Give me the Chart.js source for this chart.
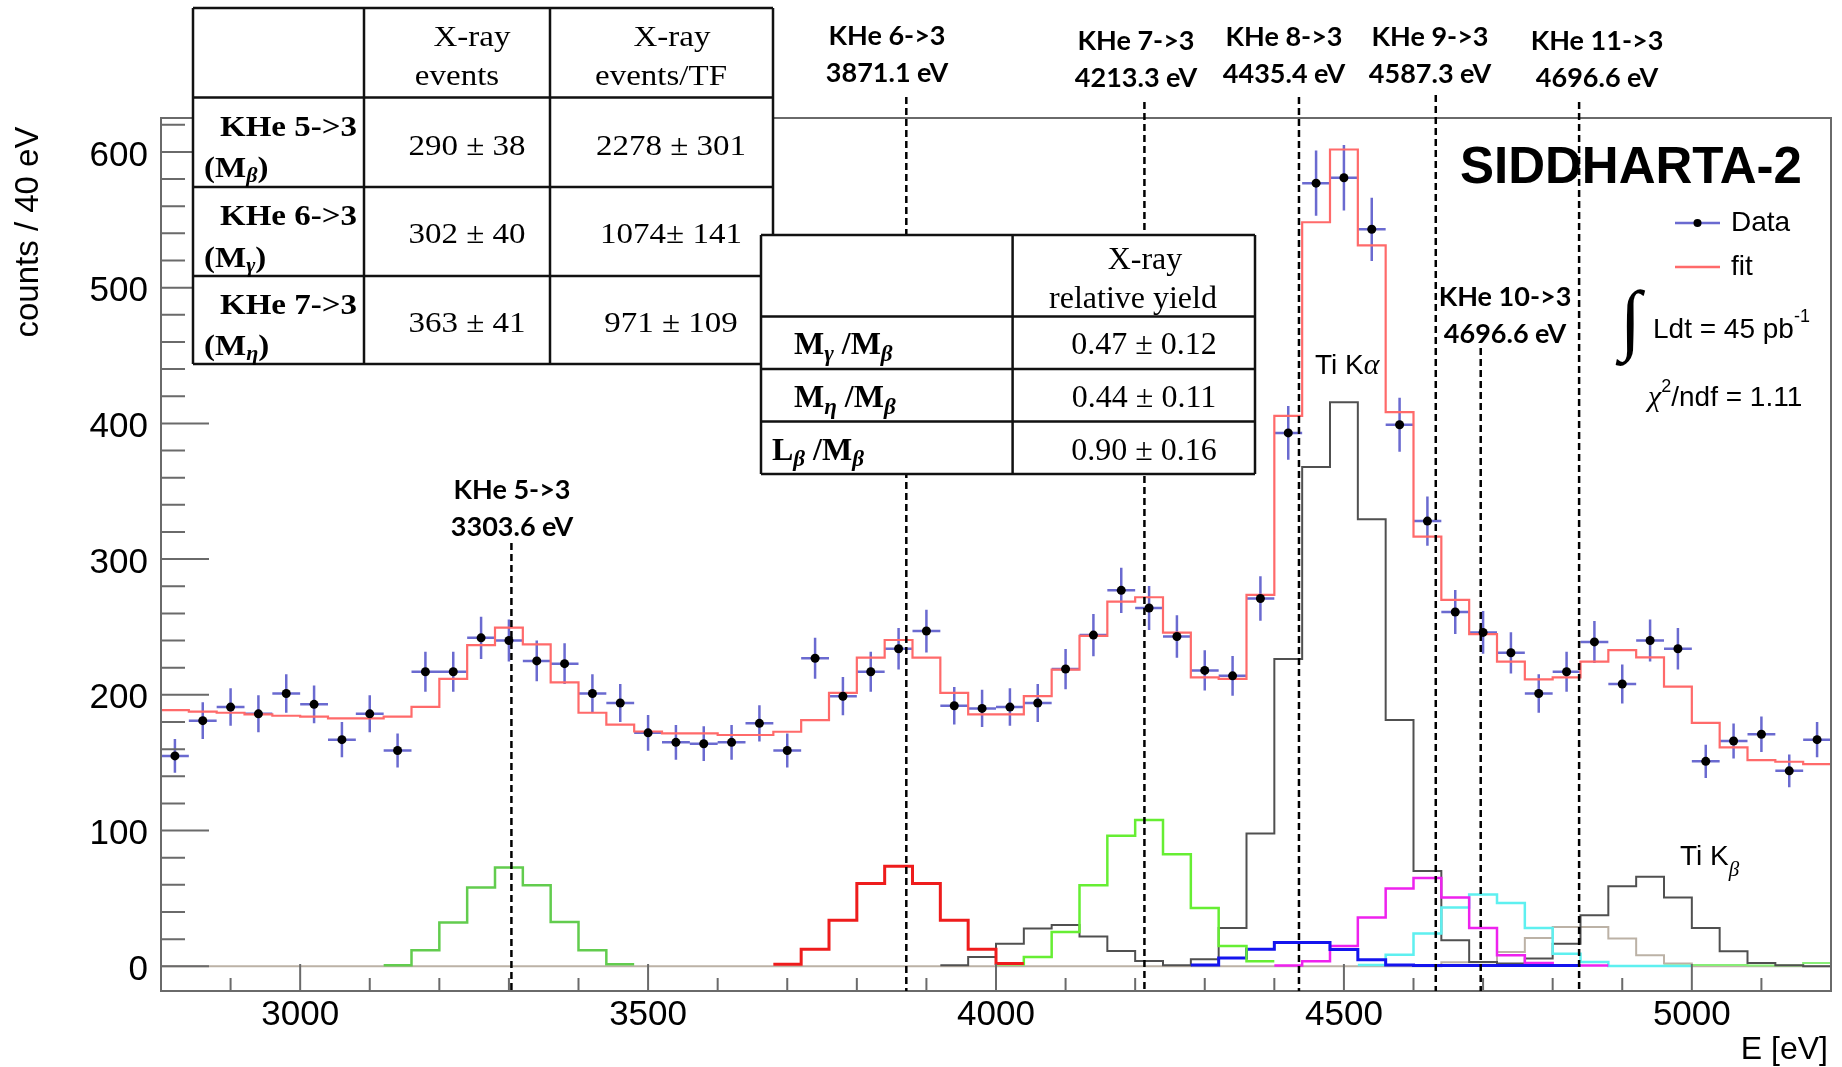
<!DOCTYPE html>
<html>
<head>
<meta charset="utf-8">
<title>SIDDHARTA-2 kaonic helium spectrum</title>
<script src="https://cdn.jsdelivr.net/npm/chart.js@4.4.1/dist/chart.umd.min.js"></script>
<style>
    html, body { margin: 0; padding: 0; background: #ffffff; }
    #box { width: 1842px; height: 1067px; }
</style>
</head>
<body>
<div id="box"><canvas id="char_spectrum" width="1842" height="1067"></canvas></div>
<script>
// energy binning (eV)
var binStart = 2800;
var binWidth = 40;

var xTicks = [3000, 3500, 4000, 4500, 5000];
var yTicks = [0, 100, 200, 300, 400, 500, 600];

// counts / 40 eV, bin centres 2820 ... 5180 eV
var dataCounts = [
    155, 181, 191, 186, 201, 193, 167, 186, 159, 217,
    217, 242, 240, 225, 223, 201, 194, 172, 165, 164,
    165, 179, 159, 227, 199, 217, 234, 247, 192, 190,
    191, 194, 219, 244, 277, 264, 243, 218, 214, 271,
    393, 577, 581, 543, 399, 328, 261, 246, 231, 201,
    217, 239, 208, 240, 234, 151, 166, 171, 144, 167
];

// total fit, one value per bin starting at 2800 eV
var fitCounts = [
    188.8, 187.6, 186.8, 185.6, 184.6, 183.9, 182.6, 182.6, 183.9, 191.2,
    211.7, 236.7, 249.5, 237.2, 209.2, 186.8, 178.0, 173.0, 171.6, 171.6,
    170.4, 170.4, 172.8, 181.4, 201.5, 227.4, 240.4, 227.4, 201.5, 185.6,
    185.6, 199.1, 218.6, 243.4, 268.7, 271.9, 245.8, 212.9, 211.7, 273.6,
    405.6, 548.2, 601.8, 531.2, 408.3, 316.6, 270.0, 244.8, 224.4, 211.4,
    212.9, 224.4, 233.0, 227.6, 206.0, 179.4, 161.3, 151.9, 150.7, 149.0
];

// fit components: lower edge of first bin + bin contents
var kHe53Start = 3120;
var kHe53 = [0.7, 11.8, 32.2, 58, 72.8, 59.7, 32.7, 11.8, 1.5];

var kHe63Start = 3680;
var kHe63 = [1.5, 12.5, 33.9, 61, 73.7, 61, 33.9, 12.5, 2];

var kHe73Start = 4000;
var kHe73 = [1.5, 6.9, 25.3, 59.7, 96.1, 107.7, 82.6, 43, 15, 3.7];

var kHe83Start = 4280;
var kHe83 = [1, 6.1, 12.5, 17.5, 17.5, 12.3, 4.9, 1, 0.5, 0.5, 0.5, 0.5, 0.5, 0.5];

var kHe93Start = 4400;
var kHe93 = [0.5, 3.7, 15, 35.9, 57.3, 65.1, 50.7, 28.3, 8.1, 2.5, 0.5, 0.5];

var kHe103Start = 4520;
var kHe103 = [1, 8.6, 24.1, 43.3, 52.9, 46.7, 28.3, 9.3, 3.2, 0.3, 0.3, 0.3];

var kHe113Start = 2800;
var kHe113 = [
    0, 0, 0, 0, 0, 0, 0, 0, 0, 0,
    0, 0, 0, 0, 0, 0, 0, 0, 0, 0,
    0, 0, 0, 0, 0, 0, 0, 0, 0, 0,
    0, 0, 0, 0, 0, 0, 0, 0, 0, 0,
    0, 0, 0, 0, 0, 0, 3, 3, 10.6, 20.9,
    29, 29, 20.4, 8.1, 2, 0, 0, 0, 0, 0
];

var tiStart = 3920;
var tiLines = [
    0.7, 6.9, 16.7, 27.8, 30.5, 22, 11.3, 3.9, 0.7, 5.2,
    28.3, 97.9, 226.4, 367.8, 415.5, 329.4, 181.4, 70.3, 19.2, 3.2,
    2, 5.7, 16.7, 37.6, 59, 65.9, 50.7, 28.3, 11.1, 2.5,
    0.7, 0
];

var tailStart = 4960;
var tailLine = [0.5, 1, 1, 0.5, 0.5, 2.5];

// transition markers
var markerNames = ["KHe 5->3", "KHe 6->3", "KHe 7->3", "KHe 8->3", "KHe 9->3", "KHe 10->3", "KHe 11->3"];
var markerCaptions = ["3303.6 eV", "3871.1 eV", "4213.3 eV", "4435.4 eV", "4587.3 eV", "4696.6 eV", "4696.6 eV"];
var markerEnergies = [3303.6, 3871.1, 4213.3, 4435.4, 4632, 4696.6, 4838];

// yield tables
var tableRowNames = ["KHe 5->3", "KHe 6->3", "KHe 7->3"];
var tableRowSymbols = ["β", "γ", "η"];
var xrayEvents = ["290 ± 38", "302 ± 40", "363 ± 41"];
var xrayEventsTF = ["2278 ± 301", "1074± 141", "971 ± 109"];
var ratioNames = [["M", "γ"], ["M", "η"], ["L", "β"]];
var ratioValues = ["0.47 ± 0.12", "0.44 ± 0.11", "0.90 ± 0.16"];

var SANS = '"Liberation Sans", Arial, sans-serif';
var SERIF = '"Liberation Serif", "Times New Roman", serif';
var LABEL = 'Lato, "Open Sans", sans-serif';
var ERR_COLOR = "rgba(80, 80, 200, 0.85)";
var FIT_COLOR = "#ff6a6a";

// points on the bin edges; each value is held until the next edge
function histPoints(start, values) {
    var pts = [];
    for (var i = 0; i < values.length; i++) {
        pts.push({ x: start + i * binWidth, y: values[i] });
    }
    pts.push({ x: start + values.length * binWidth, y: values[values.length - 1] });
    return pts;
}

function histSet(label, start, values, color, width) {
    return {
        type: "line",
        label: label,
        data: histPoints(start, values),
        borderColor: color,
        borderWidth: width,
        stepped: "before",
        pointRadius: 0,
        fill: false,
        tension: 0
    };
}

var dataPoints = dataCounts.map(function (c, i) {
    return { x: binStart + (i + 0.5) * binWidth, y: c };
});

function richText(ctx, parts, x, y, align, sx) {
    sx = sx || 1;
    var total = 0;
    parts.forEach(function (p) {
        ctx.font = p[1];
        total += ctx.measureText(p[0]).width;
    });
    var cx = align === "center" ? -total / 2 : (align === "right" ? -total : 0);
    ctx.save();
    ctx.translate(x, y);
    ctx.scale(sx, 1);
    ctx.textAlign = "left";
    ctx.textBaseline = "middle";
    ctx.fillStyle = "#000";
    parts.forEach(function (p) {
        ctx.font = p[1];
        ctx.fillText(p[0], cx, p[2] || 0);
        cx += ctx.measureText(p[0]).width;
    });
    ctx.restore();
}

function drawGrid(ctx, cols, rows) {
    var x0 = cols[0], x1 = cols[cols.length - 1];
    var y0 = rows[0], y1 = rows[rows.length - 1];
    ctx.fillStyle = "#fff";
    ctx.fillRect(x0, y0, x1 - x0, y1 - y0);
    ctx.strokeStyle = "#111";
    ctx.lineWidth = 2.5;
    ctx.setLineDash([]);
    ctx.beginPath();
    cols.forEach(function (x) { ctx.moveTo(x, y0); ctx.lineTo(x, y1); });
    rows.forEach(function (y) { ctx.moveTo(x0, y); ctx.lineTo(x1, y); });
    ctx.stroke();
}

// pixel placement of the marker labels and line tops
var markerLayout = [
    { top: 543, lx: 512, ly: 490 },
    { top: 97, lx: 887, ly: 36.5 },
    { top: 102, lx: 1136, ly: 41.5 },
    { top: 97, lx: 1284, ly: 37 },
    { top: 95, lx: 1430, ly: 37 },
    { top: 348, lx: 1505, ly: 297 },
    { top: 102, lx: 1597, ly: 41.5 }
];

var spectrumDecor = {
    id: "spectrumDecor",
    beforeDatasetsDraw: function (chart) {
        var ctx = chart.ctx, xs = chart.scales.x, ys = chart.scales.y;
        ctx.save();
        ctx.strokeStyle = ERR_COLOR;
        ctx.lineWidth = 2.5;
        ctx.beginPath();
        dataPoints.forEach(function (p) {
            var err = Math.sqrt(p.y);
            var px = xs.getPixelForValue(p.x);
            var py = ys.getPixelForValue(p.y);
            ctx.moveTo(xs.getPixelForValue(p.x - binWidth / 2), py);
            ctx.lineTo(xs.getPixelForValue(p.x + binWidth / 2), py);
            ctx.moveTo(px, ys.getPixelForValue(p.y - err));
            ctx.lineTo(px, ys.getPixelForValue(p.y + err));
        });
        ctx.stroke();
        ctx.restore();
    },
    afterDraw: function (chart) {
        var ctx = chart.ctx, a = chart.chartArea;
        var xs = chart.scales.x, ys = chart.scales.y;
        ctx.save();

        // frame and inner ticks
        ctx.strokeStyle = "#6a6a6a";
        ctx.lineWidth = 2;
        ctx.strokeRect(a.left, a.top, a.right - a.left, a.bottom - a.top);
        ctx.beginPath();
        for (var v = 0; v <= 620; v += 20) {
            var py = ys.getPixelForValue(v);
            ctx.moveTo(a.left, py);
            ctx.lineTo(a.left + (v % 100 === 0 ? 48 : 24), py);
        }
        for (var e = binStart + 100; e < 5200; e += 100) {
            var px = xs.getPixelForValue(e);
            ctx.moveTo(px, a.bottom);
            ctx.lineTo(px, a.bottom - (e % 500 === 0 ? 27 : 13));
        }
        ctx.stroke();

        // transition markers
        ctx.strokeStyle = "#000";
        ctx.lineWidth = 2.5;
        ctx.setLineDash([7, 4]);
        markerEnergies.forEach(function (en, i) {
            var mx = xs.getPixelForValue(en);
            ctx.beginPath();
            ctx.moveTo(mx, markerLayout[i].top);
            ctx.lineTo(mx, a.bottom);
            ctx.stroke();
        });
        ctx.setLineDash([]);

        // event table
        drawGrid(ctx, [193, 364, 550, 773], [8, 97.5, 187, 276, 364]);
        var t1 = "30px " + SERIF, t1b = "bold 30px " + SERIF, t1s = "italic bold 20px " + SERIF;
        richText(ctx, [["X-ray", t1]], 472, 38, "center", 1.1);
        richText(ctx, [["events", t1]], 457, 77, "center", 1.1);
        richText(ctx, [["X-ray", t1]], 672, 38, "center", 1.1);
        richText(ctx, [["events/TF", t1]], 661, 77, "center", 1.1);
        var rowTop = [128, 217, 306], rowSym = [169, 259, 347], rowVal = [146.7, 235, 324];
        for (var r = 0; r < 3; r++) {
            richText(ctx, [[tableRowNames[r], t1b]], 357, rowTop[r], "right", 1.1);
            richText(ctx, [["(M", t1b], [tableRowSymbols[r], t1s, 8], [")", t1b]], 204, rowSym[r], "left", 1.1);
            richText(ctx, [[xrayEvents[r], t1]], 467, rowVal[r], "center", 1.1);
            richText(ctx, [[xrayEventsTF[r], t1]], 671, rowVal[r], "center", 1.1);
        }

        // relative yield table
        drawGrid(ctx, [761, 1012.6, 1255], [235, 316.5, 369, 421.5, 474]);
        var t2 = "32px " + SERIF, t2b = "bold 32px " + SERIF, t2s = "italic bold 23px " + SERIF;
        richText(ctx, [["X-ray", t2]], 1145, 261, "center");
        richText(ctx, [["relative yield", t2]], 1133, 300, "center");
        var ratioY = [346, 399, 451.5], ratioX = [794, 794, 772];
        for (var k = 0; k < 3; k++) {
            richText(ctx, [[ratioNames[k][0], t2b], [ratioNames[k][1], t2s, 9], [" /M", t2b], ["β", t2s, 9]],
                ratioX[k], ratioY[k], "left");
            richText(ctx, [[ratioValues[k], t2]], 1144, ratioY[k], "center");
        }

        // marker labels
        var lf = "bold 27px " + LABEL;
        markerNames.forEach(function (name, i) {
            var m = markerLayout[i];
            richText(ctx, [[name, lf]], m.lx, m.ly, "center");
            richText(ctx, [[markerCaptions[i], lf]], m.lx, m.ly + 37, "center");
        });

        // title, legend and fit info
        richText(ctx, [["SIDDHARTA-2", "bold 51px " + SANS]], 1460, 169, "left");
        ctx.strokeStyle = ERR_COLOR;
        ctx.lineWidth = 2.5;
        ctx.beginPath();
        ctx.moveTo(1675, 223); ctx.lineTo(1720, 223);
        ctx.stroke();
        ctx.fillStyle = "#000";
        ctx.beginPath();
        ctx.arc(1697.5, 223, 4, 0, Math.PI * 2);
        ctx.fill();
        ctx.strokeStyle = FIT_COLOR;
        ctx.beginPath();
        ctx.moveTo(1675, 267); ctx.lineTo(1720, 267);
        ctx.stroke();
        var lg = "28px " + SANS;
        richText(ctx, [["Data", lg]], 1731, 223, "left");
        richText(ctx, [["fit", lg]], 1731, 267, "left");

        ctx.fillStyle = "#000";
        ctx.font = "78px " + SERIF;
        ctx.textAlign = "left";
        ctx.textBaseline = "alphabetic";
        ctx.fillText("∫", 1620, 345);
        richText(ctx, [["Ldt = 45 pb", lg], ["-1", "18px " + SANS, -13]], 1653, 330, "left");
        richText(ctx, [["χ", "italic 30px " + SERIF], ["2", "18px " + SANS, -11], ["/ndf = 1.11", lg]], 1648, 398, "left");

        richText(ctx, [["Ti K", lg], ["α", "italic 30px " + SERIF]], 1315, 366, "left");
        richText(ctx, [["Ti K", lg], ["β", "italic 21px " + SERIF, 13]], 1680, 857, "left");

        // axis titles
        ctx.save();
        ctx.translate(29, 232);
        ctx.rotate(-Math.PI / 2);
        richText(ctx, [["counts / 40 eV", "33px " + SANS]], 0, 0, "center");
        ctx.restore();
        richText(ctx, [["E [eV]", "32px " + SANS]], 1828, 1050, "right");

        ctx.restore();
    }
};

var chartEl = document.getElementById("char_spectrum");
if (chartEl != null) {
    var spectrumCtx = chartEl.getContext("2d");
    var spectrumChart = new Chart(spectrumCtx, {
        type: "scatter",
        data: {
            datasets: [
                {
                    label: "Data",
                    data: dataPoints,
                    pointRadius: 4.5,
                    pointBackgroundColor: "#000",
                    pointBorderColor: "#000",
                    pointBorderWidth: 0,
                    showLine: false
                },
                histSet("fit", binStart, fitCounts, FIT_COLOR, 2.2),
                histSet("KHe 6->3", kHe63Start, kHe63, "#ee1c1c", 3),
                histSet("KHe 5->3", kHe53Start, kHe53, "#62cc4e", 2.5),
                histSet("KHe 7->3", kHe73Start, kHe73, "#66ee33", 2.5),
                histSet("KHe 8->3", kHe83Start, kHe83, "#1414ee", 3),
                histSet("KHe 9->3", kHe93Start, kHe93, "#ee22ee", 2.5),
                histSet("KHe 10->3", kHe103Start, kHe103, "#5ef0f0", 2.5),
                histSet("Ti", tiStart, tiLines, "#505050", 2),
                histSet("tail", tailStart, tailLine, "#88ee77", 2),
                histSet("KHe 11->3", kHe113Start, kHe113, "#bcb2a6", 2)
            ]
        },
        options: {
            responsive: false,
            animation: false,
            devicePixelRatio: 1,
            layout: {
                padding: { left: 0, top: 118, right: 11, bottom: 0 }
            },
            plugins: {
                legend: { display: false },
                tooltip: { enabled: false }
            },
            scales: {
                x: {
                    type: "linear",
                    position: "bottom",
                    min: 2800,
                    max: 5200,
                    grid: { display: false, drawTicks: false },
                    border: { display: false },
                    ticks: {
                        color: "#000",
                        padding: 3,
                        maxRotation: 0,
                        autoSkip: false,
                        font: { family: "Liberation Sans", size: 35 },
                        callback: function (value) { return String(value); }
                    },
                    afterBuildTicks: function (scale) {
                        scale.ticks = xTicks.map(function (t) { return { value: t }; });
                    },
                    afterFit: function (scale) { scale.height = 76; }
                },
                y: {
                    type: "linear",
                    min: -18.2,
                    max: 625,
                    grid: { display: false, drawTicks: false },
                    border: { display: false },
                    ticks: {
                        color: "#000",
                        padding: 13,
                        labelOffset: 4,
                        font: { family: "Liberation Sans", size: 35 },
                        callback: function (value) { return String(value); }
                    },
                    afterBuildTicks: function (scale) {
                        scale.ticks = yTicks.map(function (t) { return { value: t }; });
                    },
                    afterFit: function (scale) { scale.width = 161; }
                }
            }
        },
        plugins: [spectrumDecor]
    });
}
</script>
</body>
</html>
